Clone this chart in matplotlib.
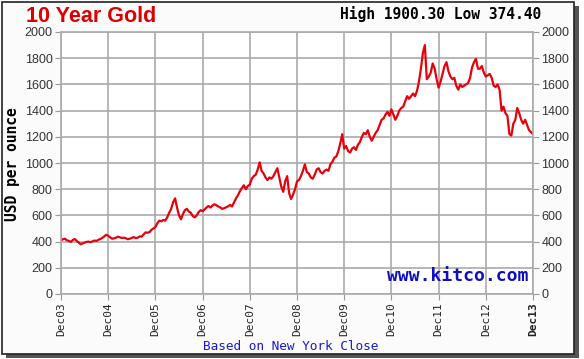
import numpy as np
import matplotlib
matplotlib.use("Agg")
import matplotlib.pyplot as plt
from matplotlib.patches import Rectangle

# gold price, USD/oz, two readings per month from Dec03 to Dec13
start = [410]
y04 = [418, 422, 410, 405, 398, 412, 420, 405, 392, 380, 386, 392,
       398, 400, 395, 402, 408, 405, 414, 420, 428, 440, 452, 445]
y05 = [432, 422, 425, 430, 438, 432, 428, 430, 425, 418, 422, 428,
       435, 426, 430, 440, 438, 455, 470, 468, 472, 490, 500, 512]
y06 = [540, 560, 555, 565, 560, 585, 620, 650, 700, 730, 660, 600,
       570, 610, 640, 650, 630, 620, 595, 585, 600, 625, 640, 632]
y07 = [645, 660, 672, 660, 675, 685, 678, 668, 660, 650, 655, 662,
       670, 680, 668, 700, 730, 755, 785, 810, 830, 800, 825, 835]
y08 = [880, 900, 910, 950, 1005, 940, 920, 890, 870, 890, 880, 900,
       930, 960, 890, 820, 780, 860, 900, 770, 725, 760, 800, 860]
y09 = [870, 900, 940, 990, 930, 920, 890, 880, 910, 950, 960, 930,
       920, 940, 950, 940, 990, 1010, 1040, 1050, 1090, 1150, 1220, 1110]
y10 = [1130, 1090, 1080, 1110, 1120, 1100, 1140, 1160, 1200, 1230, 1220, 1250,
       1200, 1170, 1200, 1230, 1250, 1290, 1330, 1340, 1370, 1390, 1360, 1410]
y11 = [1370, 1330, 1360, 1400, 1420, 1430, 1470, 1510, 1490, 1510, 1530, 1510,
       1550, 1620, 1720, 1840, 1900, 1640, 1660, 1690, 1760, 1720, 1640, 1575]
y12 = [1620, 1680, 1740, 1770, 1700, 1660, 1640, 1650, 1590, 1560, 1600, 1580,
       1590, 1600, 1610, 1650, 1730, 1770, 1795, 1720, 1720, 1740, 1690, 1660]
y13 = [1670, 1680, 1650, 1590, 1580, 1600, 1560, 1400, 1430, 1380, 1360, 1220,
       1210, 1300, 1330, 1420, 1380, 1330, 1300, 1330, 1290, 1250, 1235, 1220]
price = start + y04 + y05 + y06 + y07 + y08 + y09 + y10 + y11 + y12 + y13

xlabels = ['Dec03', 'Dec04', 'Dec05', 'Dec06', 'Dec07', 'Dec08',
           'Dec09', 'Dec10', 'Dec11', 'Dec12', 'Dec13']
yticks = list(range(0, 2001, 200))

fig = plt.figure(figsize=(5.84, 3.59), dpi=100)
fig.patch.set_facecolor('white')

# outer frame with drop shadow
fig.patches.append(Rectangle((6/584, 1/359), 573/584, 352/359, transform=fig.transFigure,
                             facecolor='#555555', edgecolor='none', zorder=-2))
fig.patches.append(Rectangle((2/584, 5/359), 572/584, 352/359, transform=fig.transFigure,
                             facecolor='#fbfbfb', edgecolor='#222222', lw=1.2, zorder=-1))

ax = fig.add_axes([61/584, 1 - 294/359, 472/584, 262/359])
ax.set_facecolor('white')
x = np.arange(len(price)) / 24.0
ax.plot(x, price, color='#e8000b', lw=1.6)

ax.set_xlim(0, 10)
ax.set_ylim(0, 2000)
ax.set_xticks(range(len(xlabels)))
ax.set_xticklabels(xlabels, rotation=90, family='DejaVu Sans Mono', fontsize=8, color='#222222')
ax.get_xticklabels()[-1].set_fontweight('bold')
ax.set_yticks(yticks)
ax.set_yticklabels([str(v) for v in yticks], family='Liberation Sans', fontsize=9, color='#333333')
ax.tick_params(axis='y', which='both', left=True, right=True, labelleft=True, labelright=True,
               length=4, color='#999999', pad=2)
ax.tick_params(axis='x', length=4, color='#999999', pad=2)
ax.grid(True, color='#aaaaaa', lw=1.2)
ax.set_axisbelow(True)
for s in ax.spines.values():
    s.set_color('#aaaaaa')
    s.set_linewidth(1.2)

fig.text(26/584, 1 - 17/359, '10 Year Gold', color='#dd0000', fontsize=15.5, fontweight='bold',
         family='Liberation Sans', va='center', ha='left')
fig.text(541/584, 1 - 14/359, 'High 1900.30 Low 374.40', fontsize=10.5, fontweight='bold',
         family='DejaVu Sans Mono', va='center', ha='right')
fig.text(13/584, 1 - 164/359, 'USD per ounce', rotation=90, fontsize=10.5, fontweight='bold',
         family='DejaVu Sans Mono', va='center', ha='center')
ax.text(0.99, 0.035, 'www.kitco.com', transform=ax.transAxes, color='#1010c0', fontsize=13,
        fontweight='bold', family='DejaVu Sans Mono', ha='right', va='bottom')
fig.text(291/584, 1 - 346/359, 'Based on New York Close', color='#1a1acc', fontsize=9.2,
         family='DejaVu Sans Mono', va='center', ha='center')

fig.savefig('out.png', dpi=100)
